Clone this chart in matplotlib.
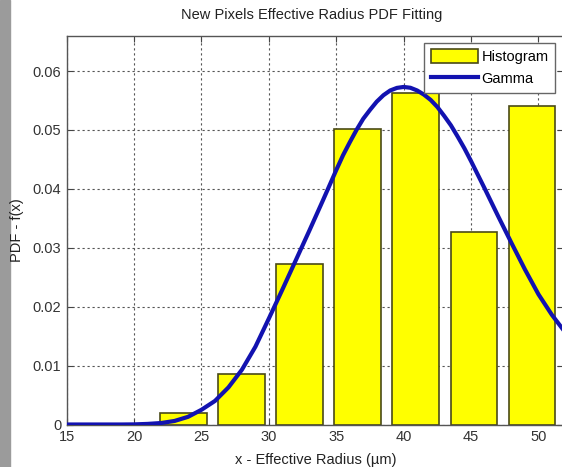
import matplotlib.pyplot as plt
from matplotlib.patches import Rectangle

plt.rcParams['font.family'] = ['Liberation Sans', 'DejaVu Sans']

# histogram of effective radius (bin centres and normalised heights)
bin_centers = [23.65, 27.96, 32.27, 36.58, 40.89, 45.20, 49.51]
bin_heights = [0.0020, 0.0086, 0.0272, 0.0502, 0.0562, 0.0326, 0.0541]
bin_width = 4.31

# fitted gamma pdf
fit_x = [15, 16, 17, 18, 19, 20, 21, 22, 23, 24, 25, 26, 27, 28, 29, 30,
         31, 32, 33, 34, 35, 35.5, 36, 36.5, 37, 37.5, 38, 38.5, 39, 39.5,
         40, 40.5, 41, 41.5, 42, 42.5, 43, 43.5, 44, 44.5, 45, 46,
         47, 48, 49, 50, 51, 52]
fit_pdf = [0, 0, 0, 0, 0, 0.00002, 0.0001, 0.00025, 0.0006, 0.0013, 0.0025,
           0.0040, 0.0063, 0.0093, 0.0132, 0.0180, 0.0229, 0.0279, 0.0329,
           0.0380, 0.0432, 0.0457, 0.0479, 0.0500, 0.0519, 0.0534, 0.0548,
           0.0559, 0.0567, 0.05714, 0.0573, 0.05716, 0.0567, 0.0560, 0.0551,
           0.0539, 0.0524, 0.0508, 0.0489, 0.0469, 0.0447, 0.0401, 0.0354,
           0.0308, 0.0263, 0.0221, 0.0186, 0.0156]

x_ticks = [15, 20, 25, 30, 35, 40, 45, 50]
y_ticks = [0, 0.01, 0.02, 0.03, 0.04, 0.05, 0.06]

W, H = 562, 467
fig = plt.figure(figsize=(W / 100, H / 100), dpi=100)
fig.patches.append(Rectangle((0, 0), 10 / W, 1, transform=fig.transFigure,
                             color='#9b9b9b', zorder=0))

ax = fig.add_axes([66.7 / W, 1 - 424.5 / H, 496.7 / W, 388.8 / H])

bars = ax.bar(bin_centers, bin_heights, width=bin_width * 0.8,
              color='#ffff00', edgecolor='#4a4a18', linewidth=1.2,
              label='Histogram', zorder=2)
line, = ax.plot(fit_x, fit_pdf, color='#1212b0', linewidth=3.0,
                label='Gamma', zorder=3, solid_joinstyle='round')

ax.set_xlim(15, 51.85)
ax.set_ylim(0, 0.066)
ax.set_xticks(x_ticks)
ax.set_yticks(y_ticks)
ax.set_yticklabels(['0', '0.01', '0.02', '0.03', '0.04', '0.05', '0.06'])
ax.set_axisbelow(True)
ax.grid(True, color='#555555', linestyle=(0, (2, 2.5)), linewidth=0.8)

ax.tick_params(direction='in', length=4, width=0.8, colors='#444444',
               labelcolor='#333333', labelsize=10.5, top=True, right=True,
               pad=4)
for s in ax.spines.values():
    s.set_color('#555555')
    s.set_linewidth(1.0)

fig.text(311.5 / W, 1 - 15 / H, 'New Pixels Effective Radius PDF Fitting',
         ha='center', va='center', fontsize=10.5, color='#222222')
fig.text(316 / W, 1 - 460 / H, 'x - Effective Radius (\u00b5m)',
         ha='center', va='center', fontsize=10.5, color='#222222')
fig.text(17 / W, 1 - 230 / H, 'PDF - f(x)', rotation=90,
         ha='center', va='center', fontsize=10.5, color='#222222')

leg = ax.legend([bars, line], ['Histogram', 'Gamma'], loc='upper right',
                bbox_to_anchor=(555 / W, 1 - 42.7 / H),
                bbox_transform=fig.transFigure, fontsize=10.5,
                fancybox=False, framealpha=1, edgecolor='#666666',
                handlelength=3.2, handleheight=1.05, handletextpad=0.25,
                labelspacing=0.5, borderpad=0.45, borderaxespad=0)
leg.get_frame().set_linewidth(1.0)

fig.savefig('out.png', dpi=100)
